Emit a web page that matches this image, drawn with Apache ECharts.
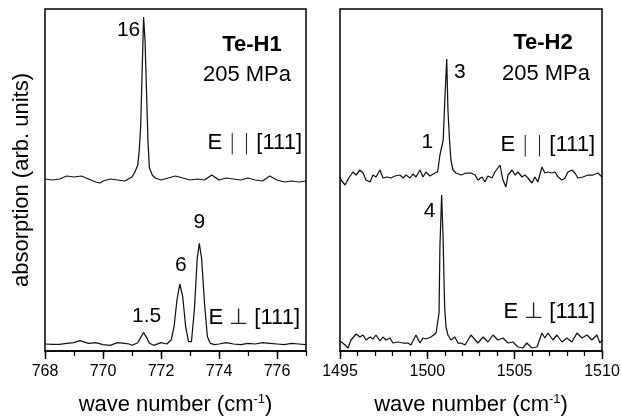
<!DOCTYPE html>
<html>
<head>
<meta charset="utf-8">
<script src="https://cdn.jsdelivr.net/npm/echarts@6/dist/echarts.min.js"></script>
<style>
  html, body { margin: 0; padding: 0; background: #fff; }
  #chart { width: 621px; height: 418px; }
</style>
</head>
<body>
<div id="chart"></div>
<script>
// ---- Te-H1 (left panel), wave numbers in cm^-1, absorption in arb. units ----
const h1ParX = [768.0, 768.25, 768.5, 768.75, 769.0, 769.25, 769.5, 769.75, 769.9, 770.0, 770.25, 770.5, 770.75, 771.0, 771.1, 771.2, 771.25, 771.3, 771.35, 771.4, 771.45, 771.5, 771.55, 771.6, 771.7, 771.8, 772.0, 772.25, 772.5, 772.75, 773.0, 773.25, 773.5, 773.75, 774.0, 774.25, 774.5, 774.75, 775.0, 775.25, 775.5, 775.75, 776.0, 776.25, 776.5, 776.75, 777.0];
const h1ParY = [17.2, 17.1, 17.2, 17.5, 17.4, 17.5, 17.2, 16.9, 16.8, 17.0, 17.2, 17.1, 17.0, 17.4, 17.9, 18.6, 20.1, 22.5, 28.0, 33.4, 31.0, 26.0, 21.0, 18.3, 17.6, 17.3, 17.1, 17.3, 17.5, 17.3, 17.1, 17.2, 17.1, 17.6, 17.1, 17.3, 17.2, 17.1, 17.3, 17.1, 17.0, 17.5, 17.1, 16.9, 17.0, 16.9, 17.0];

const h1PerpX = [768.0, 768.25, 768.5, 768.75, 769.0, 769.2, 769.5, 769.75, 770.0, 770.25, 770.5, 770.75, 770.9, 771.0, 771.2, 771.3, 771.4, 771.5, 771.6, 771.75, 772.0, 772.2, 772.35, 772.45, 772.55, 772.65, 772.75, 772.85, 772.95, 773.05, 773.15, 773.25, 773.32, 773.4, 773.5, 773.6, 773.7, 773.85, 774.0, 774.25, 774.5, 774.75, 775.0, 775.25, 775.5, 775.75, 776.0, 776.25, 776.5, 776.75, 777.0];
const h1PerpY = [0.7, 0.67, 0.67, 0.77, 0.83, 1.03, 0.77, 0.83, 0.63, 0.57, 0.83, 0.77, 0.7, 0.57, 0.83, 1.37, 1.83, 1.37, 0.77, 0.57, 0.83, 0.7, 1.1, 2.43, 5.1, 6.7, 5.43, 2.43, 0.93, 0.93, 4.1, 9.27, 10.77, 9.27, 4.77, 1.43, 0.77, 0.63, 0.7, 0.83, 0.7, 0.63, 0.77, 0.7, 0.83, 0.77, 0.7, 0.63, 0.77, 0.7, 0.63];

// ---- Te-H2 (right panel) ----
const h2ParX = [1495.0, 1495.06, 1495.29, 1495.5, 1495.74, 1495.92, 1496.14, 1496.32, 1496.49, 1496.72, 1496.89, 1497.06, 1497.29, 1497.46, 1497.69, 1497.92, 1498.15, 1498.43, 1498.61, 1498.78, 1499.01, 1499.18, 1499.35, 1499.58, 1499.75, 1499.92, 1500.15, 1500.44, 1500.59, 1500.72, 1500.91, 1501.0, 1501.11, 1501.18, 1501.27, 1501.35, 1501.47, 1501.64, 1501.93, 1502.21, 1502.5, 1502.73, 1502.9, 1503.13, 1503.3, 1503.47, 1503.7, 1503.87, 1504.16, 1504.33, 1504.5, 1504.62, 1504.85, 1505.02, 1505.19, 1505.42, 1505.59, 1505.76, 1505.99, 1506.16, 1506.33, 1506.56, 1506.73, 1506.91, 1507.14, 1507.31, 1507.48, 1507.71, 1507.88, 1508.05, 1508.28, 1508.45, 1508.62, 1508.91, 1509.2, 1509.48, 1509.77, 1510.0];
const h2ParY = [17.4, 17.1, 16.6, 17.3, 17.9, 17.6, 18.1, 17.8, 17.1, 16.9, 17.6, 17.4, 18.1, 17.3, 17.4, 17.3, 17.5, 17.6, 17.3, 17.6, 17.3, 17.7, 17.4, 18.1, 17.4, 17.9, 17.5, 17.8, 17.9, 19.6, 21.1, 25.1, 29.2, 24.1, 21.1, 19.1, 18.1, 17.8, 17.6, 17.8, 17.8, 17.6, 17.1, 17.4, 16.9, 17.5, 17.3, 17.9, 18.6, 17.1, 16.4, 17.6, 18.1, 17.6, 17.9, 17.4, 17.6, 17.3, 16.8, 17.4, 16.9, 18.4, 17.8, 17.9, 17.8, 17.9, 17.4, 17.1, 17.3, 17.9, 18.1, 17.8, 17.3, 17.4, 17.6, 17.6, 17.8, 17.4];

const h2PerpX = [1495.0, 1495.06, 1495.29, 1495.46, 1495.63, 1495.92, 1496.14, 1496.32, 1496.49, 1496.72, 1496.89, 1497.06, 1497.29, 1497.46, 1497.63, 1497.86, 1498.03, 1498.32, 1498.61, 1498.89, 1499.06, 1499.35, 1499.58, 1499.75, 1499.92, 1500.21, 1500.5, 1500.67, 1500.72, 1500.82, 1500.9, 1500.99, 1501.07, 1501.18, 1501.35, 1501.58, 1501.75, 1501.93, 1502.16, 1502.33, 1502.5, 1502.61, 1502.9, 1503.19, 1503.47, 1503.76, 1504.04, 1504.33, 1504.62, 1504.9, 1505.19, 1505.47, 1505.7, 1505.99, 1506.28, 1506.56, 1506.73, 1506.91, 1507.19, 1507.42, 1507.71, 1507.99, 1508.28, 1508.57, 1508.85, 1509.14, 1509.42, 1509.71, 1509.88, 1510.0];
const h2PerpY = [1.0, 0.8, 0.6, 0.3, 1.1, 1.7, 1.4, 1.6, 1.1, 1.4, 1.2, 1.6, 1.0, 1.4, 1.1, 1.3, 0.8, 0.9, 0.8, 0.8, 0.6, 1.6, 0.8, 1.3, 1.2, 1.4, 1.8, 3.8, 10.4, 15.6, 11.4, 4.4, 2.4, 1.6, 1.1, 1.4, 0.8, 0.8, 0.6, 1.1, 1.6, 1.4, 0.8, 1.4, 0.9, 1.6, 1.1, 1.3, 0.8, 0.9, 0.4, 0.3, 0.8, 0.3, 0.4, 1.8, 1.3, 1.8, 1.1, 1.6, 0.9, 1.3, 0.9, 1.8, 1.3, 1.6, 1.1, 1.6, 0.8, 1.1];

// Peak positions and their relative integrated intensities
const h1ParPeaks = [771.4];
const h1ParIntensity = [16];
const h1PerpPeaks = [771.4, 772.65, 773.32];
const h1PerpIntensity = [1.5, 6, 9];
const h2ParPeaks = [1500.91, 1501.11];
const h2ParIntensity = [1, 3];
const h2PerpPeaks = [1500.82];
const h2PerpIntensity = [4];

// Axis ticks
const h1Ticks = { min: 768, max: 777, major: 2, minor: 1 };
const h2Ticks = { min: 1495, max: 1510, major: 5, minor: 1 };

// ---- drawing ----
const FONT = '"Liberation Sans", Arial, Helvetica, sans-serif';
const INK = '#000';

function pairs(xs, ys) { return xs.map((x, i) => [x, ys[i]]); }
function yAt(xs, ys, x) { return ys[xs.indexOf(x)]; }

// label offsets (px) from each peak apex
const labelOffsets = {
  h1Par: [[-15, 13]],
  h1Perp: [[3, -16], [1, -19], [0, -21]],
  h2Par: [[-16, 2], [13, 13]],
  h2Perp: [[-12, 16]]
};

function peakMarks(xs, ys, peaks, values, offsets) {
  return {
    symbol: 'circle',
    symbolSize: 0,
    silent: true,
    animation: false,
    label: { show: true, position: 'inside', color: INK, fontSize: 21, fontFamily: FONT },
    data: peaks.map((p, i) => ({
      coord: [p, yAt(xs, ys, p)],
      value: values[i],
      label: { formatter: String(values[i]), offset: offsets[i] }
    }))
  };
}

const xName = '{n|wave number (cm}{s|-1}{n|)}';
const xNameStyle = {
  color: INK, fontFamily: FONT, fontSize: 22,
  rich: {
    n: { color: INK, fontFamily: FONT, fontSize: 22, lineHeight: 24 },
    s: { color: INK, fontFamily: FONT, fontSize: 13, lineHeight: 13, verticalAlign: 'top' }
  }
};

function majorAxis(grid, t) {
  return {
    type: 'value', gridIndex: grid, position: 'bottom',
    min: t.min, max: t.max, interval: t.major,
    axisLine: { show: true, onZero: false, lineStyle: { color: INK, width: 1.5 } },
    axisTick: { show: true, inside: false, length: 8, lineStyle: { color: INK, width: 1.4 } },
    axisLabel: {
      color: INK, fontSize: 16, fontFamily: FONT, margin: 13,
      showMaxLabel: t.max % t.major === 0, showMinLabel: true,
      formatter: v => String(v)
    },
    splitLine: { show: false },
    name: xName, nameLocation: 'middle', nameGap: 42, nameTextStyle: xNameStyle
  };
}
function minorAxis(grid, t) {
  return {
    type: 'value', gridIndex: grid, position: 'bottom',
    min: t.min, max: t.max, interval: t.minor,
    axisLine: { show: false },
    axisTick: { show: true, inside: false, length: 5, lineStyle: { color: INK, width: 1.3 } },
    axisLabel: { show: false },
    splitLine: { show: false }
  };
}
function yAxis(grid, withName) {
  const a = {
    type: 'value', gridIndex: grid, min: 0, max: 34.2,
    axisLine: { show: false }, axisTick: { show: false },
    axisLabel: { show: false }, splitLine: { show: false }
  };
  if (withName) {
    a.name = 'absorption (arb. units)';
    a.nameLocation = 'middle';
    a.nameGap = 12;
    a.nameTextStyle = { color: INK, fontFamily: FONT, fontSize: 22 };
  }
  return a;
}

function trace(xAxisIndex, yAxisIndex, xs, ys, marks) {
  return {
    type: 'line', xAxisIndex, yAxisIndex,
    data: pairs(xs, ys),
    showSymbol: false, symbol: 'none',
    smooth: false,
    lineStyle: { color: '#111', width: 1.25 },
    markPoint: marks,
    animation: false
  };
}

function panelText(text, x, y, align, bold) {
  return {
    type: 'text', silent: true,
    style: {
      text, x, y, align, verticalAlign: 'middle',
      fill: INK, fontFamily: FONT, fontSize: 22, fontWeight: bold ? 'bold' : 'normal',
      rich: {
        t: { fill: INK, fontFamily: FONT, fontSize: 22 },
        b: { fill: '#222', fontFamily: '"DejaVu Sans", sans-serif', fontSize: 22, fontWeight: 'lighter' }
      }
    }
  };
}

const frame = { show: true, borderColor: INK, borderWidth: 1.5, backgroundColor: 'transparent', outerBoundsMode: 'none' };

const chart = echarts.init(document.getElementById('chart'), null, { renderer: 'canvas' });
chart.setOption({
  backgroundColor: '#fff',
  animation: false,
  grid: [
    Object.assign({ left: 45, top: 9, width: 261, height: 342 }, frame),
    Object.assign({ left: 340, top: 9, width: 262, height: 342 }, frame)
  ],
  xAxis: [
    majorAxis(0, h1Ticks), minorAxis(0, h1Ticks),
    majorAxis(1, h2Ticks), minorAxis(1, h2Ticks)
  ],
  yAxis: [yAxis(0, true), yAxis(1, false)],
  series: [
    trace(0, 0, h1ParX, h1ParY, peakMarks(h1ParX, h1ParY, h1ParPeaks, h1ParIntensity, labelOffsets.h1Par)),
    trace(0, 0, h1PerpX, h1PerpY, peakMarks(h1PerpX, h1PerpY, h1PerpPeaks, h1PerpIntensity, labelOffsets.h1Perp)),
    trace(2, 1, h2ParX, h2ParY, peakMarks(h2ParX, h2ParY, h2ParPeaks, h2ParIntensity, labelOffsets.h2Par)),
    trace(2, 1, h2PerpX, h2PerpY, peakMarks(h2PerpX, h2PerpY, h2PerpPeaks, h2PerpIntensity, labelOffsets.h2Perp))
  ],
  graphic: [
    panelText('Te-H1', 252, 45, 'center', true),
    panelText('205 MPa', 247, 75, 'center', false),
    panelText('{t|E }{b|| |}{t| [111]}', 302, 143, 'right', false),
    panelText('{t|E }{b|⊥}{t| [111]}', 300, 318, 'right', false),
    panelText('Te-H2', 543, 43, 'center', true),
    panelText('205 MPa', 546, 74, 'center', false),
    panelText('{t|E }{b|| |}{t| [111]}', 595, 145, 'right', false),
    panelText('{t|E }{b|⊥}{t| [111]}', 595, 312, 'right', false)
  ]
});
</script>
</body>
</html>
